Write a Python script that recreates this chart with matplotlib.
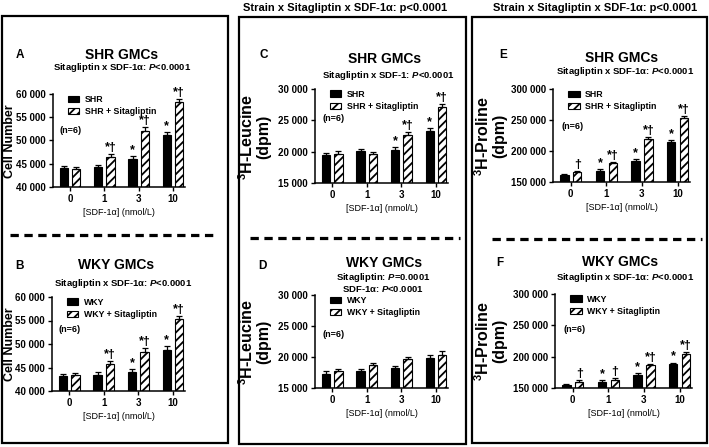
import numpy as np
import matplotlib
matplotlib.use('Agg')
import matplotlib.pyplot as plt
from matplotlib.patches import Rectangle
from matplotlib.lines import Line2D

plt.rcParams['font.family'] = ['Liberation Sans', 'DejaVu Sans']
plt.rcParams['font.weight'] = 'bold'
plt.rcParams['axes.labelweight'] = 'bold'
plt.rcParams['mathtext.fontset'] = 'custom'
plt.rcParams['mathtext.rm'] = 'Liberation Sans:bold'
plt.rcParams['mathtext.it'] = 'Liberation Sans:italic:bold'
plt.rcParams['mathtext.bf'] = 'Liberation Sans:bold'
plt.rcParams['hatch.linewidth'] = 1.3

doses = ['0', '1', '3', '10']

# A: SHR cell number
a_ctrl = [44100, 44200, 46100, 51100]
a_ctrl_err = [500, 600, 600, 700]
a_sita = [43900, 46500, 52100, 58300]
a_sita_err = [500, 500, 900, 600]
a_ctrl_sig = ['', '', '*', '*']
a_sita_sig = ['', '*†', '*†', '*†']

# B: WKY cell number
b_ctrl = [43100, 43500, 44000, 48700]
b_ctrl_err = [500, 600, 700, 900]
b_sita = [43400, 45700, 48400, 55300]
b_sita_err = [500, 700, 800, 700]
b_ctrl_sig = ['', '', '*', '*']
b_sita_sig = ['', '*†', '*†', '*†']

# C: SHR leucine
c_ctrl = [19400, 20100, 20300, 23300]
c_ctrl_err = [400, 300, 400, 400]
c_sita = [19700, 19600, 22600, 27200]
c_sita_err = [400, 400, 500, 400]
c_ctrl_sig = ['', '', '*', '*']
c_sita_sig = ['', '', '*†', '*†']

# D: WKY leucine
d_ctrl = [17300, 17700, 18200, 19800]
d_ctrl_err = [400, 400, 400, 500]
d_sita = [17700, 18700, 19600, 20400]
d_sita_err = [400, 400, 400, 500]
d_ctrl_sig = ['', '', '', '']
d_sita_sig = ['', '', '', '']

# E: SHR proline
e_ctrl = [161000, 168000, 184000, 215000]
e_ctrl_err = [2000, 2500, 2500, 2500]
e_sita = [166000, 180000, 220000, 254000]
e_sita_err = [2000, 2500, 2000, 2000]
e_ctrl_sig = ['', '*', '*', '*']
e_sita_sig = ['†', '*†', '*†', '*†']

# F: WKY proline
f_ctrl = [155000, 160000, 171000, 188000]
f_ctrl_err = [2000, 2500, 2500, 2500]
f_sita = [160000, 163000, 186000, 205000]
f_sita_err = [2500, 2500, 3000, 3000]
f_ctrl_sig = ['', '*', '*', '*']
f_sita_sig = ['†', '†', '*†', '*†']

W, H = 709, 447
fig = plt.figure(figsize=(W / 100, H / 100), dpi=100)


def fx(x):
    return x / W


def fy(y):
    return 1 - y / H


def ftext(x, y, s, **kw):
    fig.text(fx(x), fy(y), s, ha=kw.pop('ha', 'center'), va=kw.pop('va', 'center'), **kw)


def panel(box, ctrl, ctrl_err, sita, sita_err, ctrl_sig, sita_sig,
          ylim, yticks, strain, n_pos):
    l, b, r, t = box
    ax = fig.add_axes([fx(l), fy(b), fx(r - l), (b - t) / H])
    x = np.arange(len(doses))
    w = 0.24
    ax.bar(x - 0.18, ctrl, w, color='black', edgecolor='black', lw=0.8,
           yerr=[np.zeros(4), ctrl_err], capsize=2,
           error_kw=dict(elinewidth=0.9, capthick=0.9), label=strain)
    ax.bar(x + 0.18, sita, w, color='white', edgecolor='black', lw=0.8, hatch='////',
           yerr=[np.zeros(4), sita_err], capsize=2,
           error_kw=dict(elinewidth=0.9, capthick=0.9), label=strain + ' + Sitagliptin')
    for i in range(len(doses)):
        if ctrl_sig[i]:
            ax.annotate(ctrl_sig[i], (x[i] - 0.18, ctrl[i] + ctrl_err[i]), xytext=(0, 0),
                        textcoords='offset points', ha='center', va='bottom', fontsize=9)
        if sita_sig[i]:
            ax.annotate(sita_sig[i], (x[i] + 0.18, sita[i] + sita_err[i]), xytext=(0, 0),
                        textcoords='offset points', ha='center', va='bottom', fontsize=9)
    ax.set_xlim(-0.5, 3.35)
    ax.set_ylim(*ylim)
    ax.set_yticks(yticks)
    ax.set_yticklabels([f'{v:,}'.replace(',', ' ') for v in yticks])
    ax.set_xticks(x)
    ax.set_xticklabels(doses)
    ax.tick_params(labelsize=7, length=3, width=1, pad=2)
    for s in ['top', 'right']:
        ax.spines[s].set_visible(False)
    for s in ['left', 'bottom']:
        ax.spines[s].set_linewidth(1.1)
    ax.set_xlabel('[SDF-1α] (nmol/L)', fontsize=6.5, fontweight='normal', labelpad=3)
    ax.legend(loc='upper left', bbox_to_anchor=(0.08, 1.04), frameon=False, fontsize=6.3,
              handlelength=1.3, handleheight=0.7, labelspacing=0.35, borderpad=0,
              handletextpad=0.6)
    ax.text(n_pos[0], n_pos[1], '(n=6)', transform=ax.transAxes, fontsize=6.5,
            ha='left', va='center')
    return ax


yt_cell = [40000, 45000, 50000, 55000, 60000]
yt_leu = [15000, 20000, 25000, 30000]
yt_pro = [150000, 200000, 250000, 300000]

panel((53, 187, 185, 94), a_ctrl, a_ctrl_err, a_sita, a_sita_err, a_ctrl_sig, a_sita_sig,
      (40000, 60000), yt_cell, 'SHR', (0.05, 0.61))
panel((52, 391, 185, 297), b_ctrl, b_ctrl_err, b_sita, b_sita_err, b_ctrl_sig, b_sita_sig,
      (40000, 60000), yt_cell, 'WKY', (0.05, 0.65))
panel((315, 183, 448, 89), c_ctrl, c_ctrl_err, c_sita, c_sita_err, c_ctrl_sig, c_sita_sig,
      (15000, 30000), yt_leu, 'SHR', (0.06, 0.69))
panel((315, 388, 448, 295), d_ctrl, d_ctrl_err, d_sita, d_sita_err, d_ctrl_sig, d_sita_sig,
      (15000, 30000), yt_leu, 'WKY', (0.06, 0.57))
panel((553, 182, 690, 89), e_ctrl, e_ctrl_err, e_sita, e_sita_err, e_ctrl_sig, e_sita_sig,
      (150000, 300000), yt_pro, 'SHR', (0.06, 0.60))
panel((555, 388, 692, 294), f_ctrl, f_ctrl_err, f_sita, f_sita_err, f_ctrl_sig, f_sita_sig,
      (150000, 300000), yt_pro, 'WKY', (0.06, 0.62))

# y labels
ftext(10.5, 141, 'Cell Number', fontsize=9, rotation=90)
ftext(10.5, 344, 'Cell Number', fontsize=9, rotation=90)
ftext(254, 137, '$^{3}$H-Leucine\n(dpm)', fontsize=11.5, rotation=90, linespacing=1.0)
ftext(254, 342, '$^{3}$H-Leucine\n(dpm)', fontsize=11.5, rotation=90, linespacing=1.0)
ftext(490, 136, '$^{3}$H-Proline\n(dpm)', fontsize=11.5, rotation=90, linespacing=1.0)
ftext(490, 341, '$^{3}$H-Proline\n(dpm)', fontsize=11.5, rotation=90, linespacing=1.0)

# titles
ftext(122, 55, 'SHR GMCs', fontsize=10)
ftext(122, 67, r'Sitagliptin x SDF-1α: $\mathit{P}$<0.0001', fontsize=6.8)
ftext(116, 265, 'WKY GMCs', fontsize=10)
ftext(123, 283, r'Sitagliptin x SDF-1α: $\mathit{P}$<0.0001', fontsize=6.8)
ftext(385, 59, 'SHR GMCs', fontsize=10)
ftext(388, 76, r'Sitagliptin x SDF-1: $\mathit{P}$<0.0001', fontsize=6.8)
ftext(384, 263, 'WKY GMCs', fontsize=10)
ftext(383, 277, r'Sitagliptin: $\mathit{P}$=0.0001', fontsize=6.8)
ftext(383, 289, r'SDF-1α: $\mathit{P}$<0.0001', fontsize=6.8)
ftext(622, 58, 'SHR GMCs', fontsize=10)
ftext(625, 71, r'Sitagliptin x SDF-1α: $\mathit{P}$<0.0001', fontsize=6.8)
ftext(620, 262, 'WKY GMCs', fontsize=10)
ftext(625, 278, r'Sitagliptin x SDF-1α: $\mathit{P}$<0.0001', fontsize=6.8)

for letter, (lx, ly) in zip('ABCDEF', [(20, 55), (20, 266), (264, 55), (262, 266),
                                       (503, 55), (500, 263)]):
    ftext(lx, ly, letter, fontsize=8.5)

ftext(345, 8, 'Strain x Sitagliptin x SDF-1α: p<0.0001', fontsize=8)
ftext(595, 8, 'Strain x Sitagliptin x SDF-1α: p<0.0001', fontsize=8)

# boxes
for l, t, r, b in [(2, 16, 228, 443), (239, 17, 466, 444), (472, 17, 707, 443)]:
    fig.patches.append(Rectangle((fx(l), fy(b)), fx(r - l), (b - t) / H, fill=False,
                                 lw=1.6, edgecolor='black', transform=fig.transFigure))

# dashed separators
plt.rcParams['lines.scale_dashes'] = False
for x0, x1, y in [(10, 216, 235), (250, 460, 238), (492, 702, 239)]:
    fig.lines.append(Line2D([fx(x0), fx(x1)], [fy(y), fy(y)], color='black', lw=2.3,
                            dashes=(6, 4), transform=fig.transFigure))

fig.savefig('out.png', dpi=100)
